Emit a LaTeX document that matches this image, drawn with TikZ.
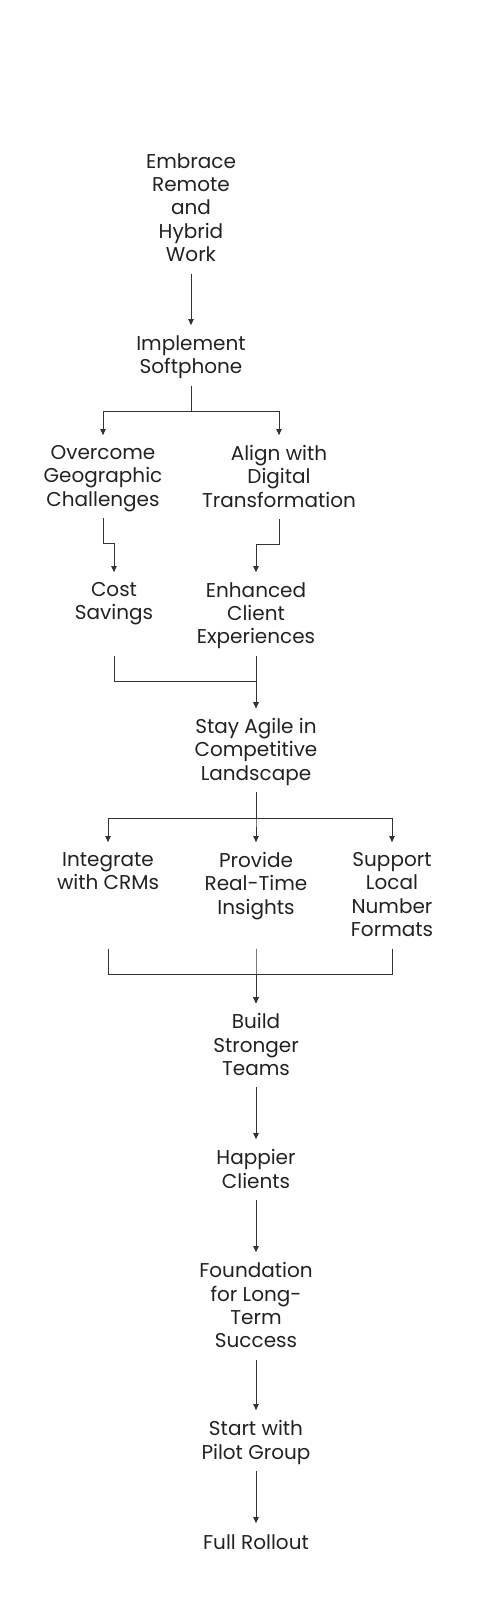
\documentclass[tikz,border=0pt]{standalone}
\usepackage{fontspec}
\setmainfont{Poppins}
\usetikzlibrary{arrows.meta}
\definecolor{ink}{HTML}{333333}
\definecolor{inktext}{HTML}{222222}
\begin{document}
\begin{tikzpicture}[x=0.75pt,y=0.75pt,
    box/.style={anchor=north,align=center,inner xsep=0pt,inner ysep=3.5pt,text=inktext,
        font=\fontsize{15}{17.5}\selectfont,execute at begin node=\strut,execute at end node=\strut},
    link/.style={draw=ink,line width=0.75pt,-{Triangle[length=4.5pt,width=4pt]},shorten >=4pt}]
    \useasboundingbox (0,0) rectangle (477,-1600);
    \node[box] (emb) at (191,-148.5) {Embrace\\Remote\\and\\Hybrid\\Work};
    \node[box] (impl) at (191,-330.5) {Implement\\Softphone};
    \node[box] (over) at (103,-440.5) {Overcome\\Geographic\\Challenges};
    \node[box] (align) at (279,-440.5) {Align with\\Digital\\Transformation};
    \node[box] (cost) at (114,-577.5) {Cost\\Savings};
    \node[box] (enh) at (256,-577.5) {Enhanced\\Client\\Experiences};
    \node[box] (agile) at (256,-713.5) {Stay Agile in\\Competitive\\Landscape};
    \node[box] (integ) at (108,-847.5) {Integrate\\with CRMs};
    \node[box] (prov) at (256,-847.5) {Provide\\Real-Time\\Insights};
    \node[box] (supp) at (392,-847.5) {Support\\Local\\Number\\Formats};
    \node[box] (build) at (256,-1008.5) {Build\\Stronger\\Teams};
    \node[box] (happy) at (256,-1144.5) {Happier\\Clients};
    \node[box] (found) at (256,-1257.5) {Foundation\\for Long-\\Term\\Success};
    \node[box] (pilot) at (256,-1415.5) {Start with\\Pilot Group};
    \node[box] (full) at (256,-1528.5) {Full Rollout};
    \draw[link] (emb.south) -- (impl.north);
    \draw[link] (impl.south) -- ++(0,-26) -| (over.north);
    \draw[link] (impl.south) -- ++(0,-26) -| (align.north);
    \draw[link] (over.south) -- ++(0,-25) -| (cost.north);
    \draw[link] (align.south) -- ++(0,-25) -| (enh.north);
    \draw[link] (cost.south |- enh.south) -- ++(0,-26) -| (agile.north);
    \draw[link] (enh.south) -- (agile.north);
    \draw[link] (agile.south) -- ++(0,-26) -| (integ.north);
    \draw[link] (agile.south) -- ++(0,-26) -| (prov.north);
    \draw[link] (agile.south) -- ++(0,-26) -| (supp.north);
    \draw[link] (integ.south |- supp.south) -- ++(0,-26) -| (build.north);
    \draw[link] (prov.south |- supp.south) -- ++(0,-26) -| (build.north);
    \draw[link] (supp.south) -- ++(0,-26) -| (build.north);
    \draw[link] (build.south) -- (happy.north);
    \draw[link] (happy.south) -- (found.north);
    \draw[link] (found.south) -- (pilot.north);
    \draw[link] (pilot.south) -- (full.north);
\end{tikzpicture}
\end{document}
